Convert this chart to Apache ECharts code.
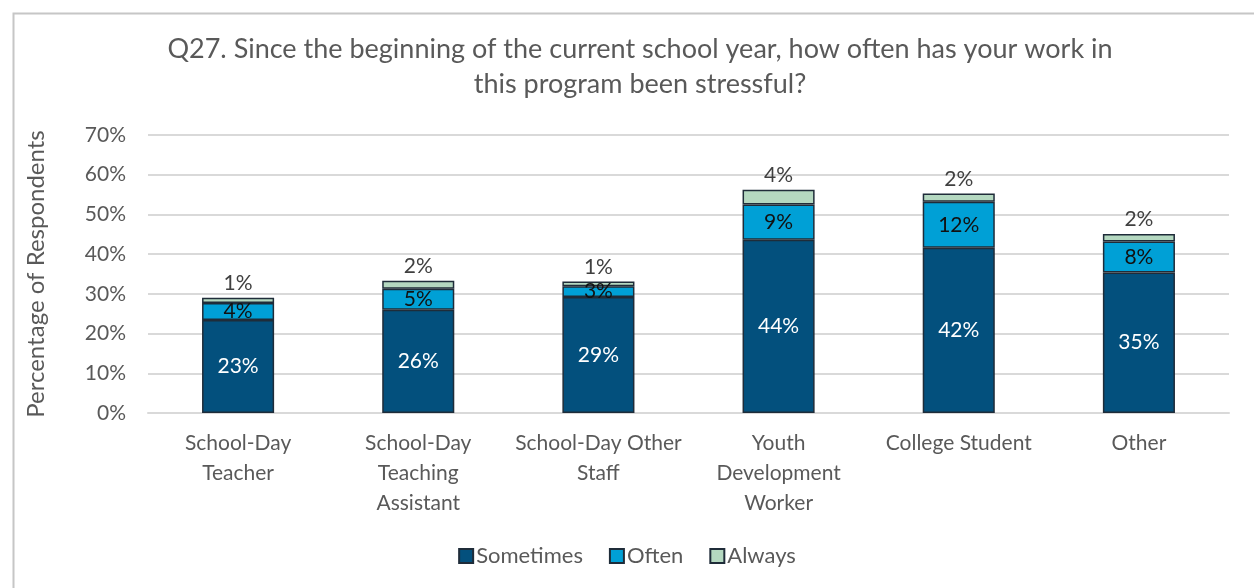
<!DOCTYPE html>
<html>
<head>
<meta charset="utf-8">
<script src="https://cdn.jsdelivr.net/npm/echarts@6/dist/echarts.min.js"></script>
<style>
  html, body { margin: 0; padding: 0; background: #ffffff; }
  #chart { width: 1254px; height: 588px; }
</style>
</head>
<body>
<div id="chart"></div>
<script>
// Respondent roles on the x axis
const categories = [
  'School-Day\nTeacher',
  'School-Day\nTeaching\nAssistant',
  'School-Day Other\nStaff',
  'Youth\nDevelopment\nWorker',
  'College Student',
  'Other'
];

// Share of respondents (percent) per answer
const sometimes = [23.4, 26.0, 29.2, 43.6, 41.6, 35.4];
const often     = [4.3, 5.3, 2.7, 8.9, 11.6, 7.8];
const always    = [1.3, 2.0, 1.2, 3.7, 2.1, 1.9];

const yTicks = { min: 0, max: 70, interval: 10 };

const FONT = 'Lato';
const TEXT = '#595959';
const EDGE = '#1f2c39';

const pct = p => Math.round(p.value) + '%';

const chart = echarts.init(document.getElementById('chart'), null, { renderer: 'canvas' });

function barSeries(name, data, color, label) {
  return {
    name: name,
    type: 'bar',
    stack: 'total',
    data: data,
    barWidth: '40%',
    itemStyle: { color: color, borderColor: EDGE, borderWidth: 1.5 },
    label: Object.assign({ show: true, formatter: pct, fontFamily: FONT, fontSize: 21 }, label),
    emphasis: { disabled: true }
  };
}

chart.setOption({
  animation: false,
  textStyle: { fontFamily: FONT },
  title: {
    text: 'Q27. Since the beginning of the current school year, how often has your work in\nthis program been stressful?',
    left: 635,
    top: 27,
    textAlign: 'center',
    textStyle: { fontFamily: FONT, fontSize: 27, fontWeight: 'normal', color: TEXT, lineHeight: 35 }
  },
  graphic: [{
    type: 'rect',
    left: 11, top: 11,
    shape: { width: 1300, height: 700 },
    style: { fill: 'none', stroke: '#c6c6c6', lineWidth: 2 },
    silent: true
  }],
  legend: {
    data: ['Sometimes', 'Often', 'Always'],
    bottom: 16,
    left: 'center',
    icon: 'rect',
    itemWidth: 14,
    itemHeight: 14,
    itemGap: 26,
    textStyle: { fontFamily: FONT, fontSize: 22, color: TEXT, padding: [0, 0, 0, -2] }
  },
  grid: { left: 148, right: 25, top: 135, bottom: 175, containLabel: false },
  xAxis: {
    type: 'category',
    data: categories,
    axisLine: { show: true, lineStyle: { color: '#d9d9d9', width: 2 } },
    axisTick: { show: false },
    axisLabel: { fontFamily: FONT, fontSize: 21, color: TEXT, lineHeight: 30, margin: 15, interval: 0 }
  },
  yAxis: {
    type: 'value',
    min: yTicks.min,
    max: yTicks.max,
    interval: yTicks.interval,
    name: 'Percentage of Respondents',
    nameLocation: 'middle',
    nameGap: 100,
    nameRotate: 90,
    nameTextStyle: { fontFamily: FONT, fontSize: 24, color: TEXT },
    axisLine: { show: false },
    axisTick: { show: false },
    splitLine: { lineStyle: { color: '#d9d9d9', width: 2 } },
    axisLabel: { formatter: '{value}%', fontFamily: FONT, fontSize: 21, color: TEXT, margin: 22 }
  },
  series: [
    barSeries('Sometimes', sometimes, '#03507d', { position: 'inside', color: '#ffffff' }),
    barSeries('Often', often, '#00a0d6', { position: 'inside', color: '#111111' }),
    barSeries('Always', always, '#b4d8c0', { position: 'top', color: '#404040', distance: 4 })
  ]
});
</script>
</body>
</html>
